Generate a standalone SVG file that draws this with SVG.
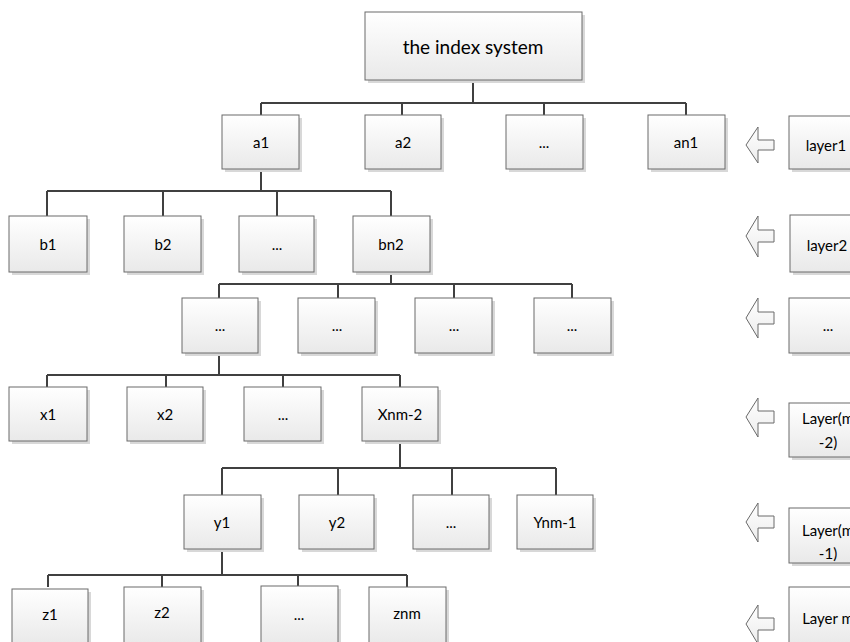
<svg xmlns="http://www.w3.org/2000/svg" width="850" height="642" viewBox="0 0 850 642">
<defs>
<linearGradient id="g" x1="0" y1="0" x2="0" y2="1">
<stop offset="0" stop-color="#ffffff"/>
<stop offset="1" stop-color="#e9e9e9"/>
</linearGradient>
<linearGradient id="ga" x1="0" y1="0" x2="0" y2="1">
<stop offset="0" stop-color="#ffffff"/>
<stop offset="1" stop-color="#ececec"/>
</linearGradient>
</defs>
<style>
.b{fill:url(#g);stroke:#6a6a6a;stroke-width:1}
.s{fill:#d8d8d8;stroke:none}
.t{font-family:Lato,"Open Sans","Liberation Sans",sans-serif;font-size:15px;fill:#000;text-anchor:middle;dominant-baseline:central}
.big{font-size:19px}
.c{fill:none;stroke:#404040;stroke-width:2}
.a{fill:url(#ga);stroke:#6a6a6a;stroke-width:1}
</style>
<rect width="850" height="642" fill="#ffffff"/>

<g id="connectors">
<path class="c" d="M473 80V103M261 103H686M261 103V115M402 103V115M544 103V115M686 103V115"/>
<path class="c" d="M261 169V191M47 191H391M47 191V216M163 191V216M277 191V216M391 191V216"/>
<path class="c" d="M391 272V284M219 284H572M219 284V298M338 284V298M454 284V298M572 284V298"/>
<path class="c" d="M219 353V375M47 375H400M47 375V387M166 375V387M283 375V387M400 375V387"/>
<path class="c" d="M400 441V468M222 468H556M222 468V495M338 468V495M452 468V495M556 468V495"/>
<path class="c" d="M222 549V575M48 575H407M48 575V587M162 575V589M298 575V586M407 575V587"/>
</g>

<g id="root"><rect class="s" x="368" y="15" width="217" height="68"/><rect class="b" x="365" y="12" width="217" height="68"/><text class="t big" x="473" y="46">the index system</text></g>

<g id="a1"><rect class="s" x="225" y="118" width="77" height="54"/><rect class="b" x="222" y="115" width="77" height="54"/><text class="t" x="261" y="142">a1</text></g>
<g id="a2"><rect class="s" x="368" y="118" width="76" height="54"/><rect class="b" x="365" y="115" width="76" height="54"/><text class="t" x="403" y="142">a2</text></g>
<g id="a3"><rect class="s" x="509" y="118" width="77" height="54"/><rect class="b" x="506" y="115" width="77" height="54"/><text class="t" x="544" y="142">...</text></g>
<g id="an1"><rect class="s" x="651" y="118" width="77" height="54"/><rect class="b" x="648" y="115" width="77" height="54"/><text class="t" x="686" y="142">an1</text></g>

<g id="b1"><rect class="s" x="12" y="219" width="78" height="56"/><rect class="b" x="9" y="216" width="78" height="56"/><text class="t" x="48" y="244">b1</text></g>
<g id="b2"><rect class="s" x="127" y="219" width="77" height="56"/><rect class="b" x="124" y="216" width="77" height="56"/><text class="t" x="163" y="244">b2</text></g>
<g id="b3"><rect class="s" x="242" y="219" width="75" height="56"/><rect class="b" x="239" y="216" width="75" height="56"/><text class="t" x="277" y="244">...</text></g>
<g id="bn2"><rect class="s" x="356" y="219" width="77" height="56"/><rect class="b" x="353" y="216" width="77" height="56"/><text class="t" x="391" y="244">bn2</text></g>

<g id="c1"><rect class="s" x="185" y="301" width="76" height="55"/><rect class="b" x="182" y="298" width="76" height="55"/><text class="t" x="220" y="325">...</text></g>
<g id="c2"><rect class="s" x="301" y="301" width="77" height="55"/><rect class="b" x="298" y="298" width="77" height="55"/><text class="t" x="337" y="325">...</text></g>
<g id="c3"><rect class="s" x="418" y="301" width="77" height="55"/><rect class="b" x="415" y="298" width="77" height="55"/><text class="t" x="454" y="325">...</text></g>
<g id="c4"><rect class="s" x="537" y="301" width="77" height="55"/><rect class="b" x="534" y="298" width="77" height="55"/><text class="t" x="572" y="325">...</text></g>

<g id="x1"><rect class="s" x="12" y="390" width="78" height="54"/><rect class="b" x="9" y="387" width="78" height="54"/><text class="t" x="48" y="414">x1</text></g>
<g id="x2"><rect class="s" x="130" y="390" width="76" height="54"/><rect class="b" x="127" y="387" width="76" height="54"/><text class="t" x="165" y="414">x2</text></g>
<g id="x3"><rect class="s" x="247" y="390" width="77" height="54"/><rect class="b" x="244" y="387" width="77" height="54"/><text class="t" x="283" y="414">...</text></g>
<g id="xnm2"><rect class="s" x="365" y="390" width="76" height="54"/><rect class="b" x="362" y="387" width="76" height="54"/><text class="t" x="400" y="414">Xnm-2</text></g>

<g id="y1"><rect class="s" x="187" y="498" width="77" height="54"/><rect class="b" x="184" y="495" width="77" height="54"/><text class="t" x="222" y="522">y1</text></g>
<g id="y2"><rect class="s" x="302" y="498" width="75" height="54"/><rect class="b" x="299" y="495" width="75" height="54"/><text class="t" x="337" y="522">y2</text></g>
<g id="y3"><rect class="s" x="416" y="498" width="76" height="54"/><rect class="b" x="413" y="495" width="76" height="54"/><text class="t" x="451" y="522">...</text></g>
<g id="ynm1"><rect class="s" x="520" y="498" width="76" height="54"/><rect class="b" x="517" y="495" width="76" height="54"/><text class="t" x="555" y="522">Ynm-1</text></g>

<g id="z1"><rect class="s" x="15" y="592" width="76" height="56"/><rect class="b" x="12" y="589" width="76" height="56"/><text class="t" x="50" y="614">z1</text></g>
<g id="z2"><rect class="s" x="127" y="590" width="77" height="58"/><rect class="b" x="124" y="587" width="77" height="58"/><text class="t" x="162" y="612">z2</text></g>
<g id="z3"><rect class="s" x="264" y="589" width="77" height="59"/><rect class="b" x="261" y="586" width="77" height="59"/><text class="t" x="299" y="614">...</text></g>
<g id="znm"><rect class="s" x="372" y="590" width="77" height="58"/><rect class="b" x="369" y="587" width="77" height="58"/><text class="t" x="407" y="613">znm</text></g>

<g id="arrow1"><path class="a" d="M746 145L758 127V140H774V150H758V163Z"/></g>
<g id="layer1"><rect class="s" x="792" y="119" width="78" height="53"/><rect class="b" x="789" y="116" width="78" height="53"/><text class="t" x="826" y="145">layer1</text></g>

<g id="arrow2"><path class="a" d="M746 236L758 216V230H774V242H758V257Z"/></g>
<g id="layer2"><rect class="s" x="793" y="218" width="78" height="57"/><rect class="b" x="790" y="215" width="78" height="57"/><text class="t" x="827" y="245">layer2</text></g>

<g id="arrow3"><path class="a" d="M746 318L758 298V312H774V324H758V338Z"/></g>
<g id="layer3"><rect class="s" x="792" y="301" width="78" height="55"/><rect class="b" x="789" y="298" width="78" height="55"/><text class="t" x="828" y="325">...</text></g>

<g id="arrow4"><path class="a" d="M746 417L758 398V411H774V423H758V437Z"/></g>
<g id="layerm2"><rect class="s" x="792" y="406" width="78" height="54"/><rect class="b" x="789" y="403" width="78" height="54"/><text class="t" x="828" y="418">Layer(m</text><text class="t" x="828" y="442">-2)</text></g>

<g id="arrow5"><path class="a" d="M746 522L758 503V516H774V528H758V542Z"/></g>
<g id="layerm1"><rect class="s" x="792" y="511" width="78" height="55"/><rect class="b" x="789" y="508" width="78" height="55"/><text class="t" x="828" y="530">Layer(m</text><text class="t" x="828" y="553">-1)</text></g>

<g id="arrow6"><path class="a" d="M746 624L758 605V618H774V630H758V644Z"/></g>
<g id="layerm"><rect class="s" x="792" y="590" width="78" height="58"/><rect class="b" x="789" y="587" width="78" height="58"/><text class="t" x="828" y="618">Layer m</text></g>
</svg>
